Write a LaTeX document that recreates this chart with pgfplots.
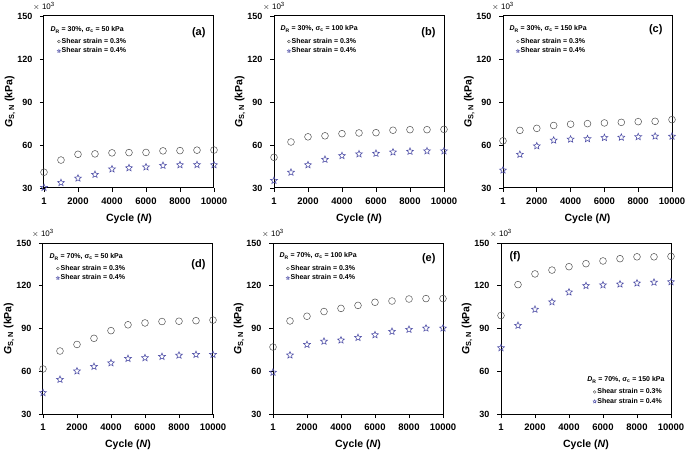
\documentclass[border=0pt]{standalone}
\usepackage{fontspec}
\setmainfont{Liberation Sans}
\usepackage{pgfplots}
\pgfplotsset{compat=1.18}
\definecolor{circgray}{RGB}{80,80,80}
\definecolor{starblue}{RGB}{75,75,165}
\pgfdeclareplotmark{ostar}{%
  \pgfpathmoveto{\pgfpointpolar{90}{\pgfplotmarksize}}%
  \pgfpathlineto{\pgfpointpolar{126}{0.45\pgfplotmarksize}}%
  \pgfpathlineto{\pgfpointpolar{162}{\pgfplotmarksize}}%
  \pgfpathlineto{\pgfpointpolar{198}{0.45\pgfplotmarksize}}%
  \pgfpathlineto{\pgfpointpolar{234}{\pgfplotmarksize}}%
  \pgfpathlineto{\pgfpointpolar{270}{0.45\pgfplotmarksize}}%
  \pgfpathlineto{\pgfpointpolar{306}{\pgfplotmarksize}}%
  \pgfpathlineto{\pgfpointpolar{342}{0.45\pgfplotmarksize}}%
  \pgfpathlineto{\pgfpointpolar{18}{\pgfplotmarksize}}%
  \pgfpathlineto{\pgfpointpolar{54}{0.45\pgfplotmarksize}}%
  \pgfpathclose
  \pgfusepathqstroke
}
\newcommand{\tfont}{\fontsize{9.5}{10}\selectfont\bfseries}
\newcommand{\lfont}{\fontsize{7}{8}\selectfont\bfseries}
\pgfplotsset{
  panel/.style={
    scale only axis, width=170pt, height=172pt,
    xmin=1, xmax=10000, ymin=30, ymax=150,
    scaled x ticks=false, scaled y ticks=false,
    xtick={1,2000,4000,6000,8000,10000},
    xticklabels={1,2000,4000,6000,8000,10000},
    ytick={30,60,90,120,150},
    yticklabels={30,60,90,120,150},
    tick align=outside, tick pos=left, major tick length=4pt,
    axis line style={line width=1pt, black},
    tick style={line width=0.8pt, black},
    xticklabel style={font=\tfont, yshift=-2pt},
    yticklabel style={font=\fontsize{9}{10}\selectfont\bfseries, xshift=-4pt},
    xlabel={\textbf{Cycle (\textit{N})}},
    ylabel={\textbf{\textit{G}}\textsubscript{\bfseries S, N} \textbf{(kPa)}},
    xlabel style={font=\fontsize{10.5}{11}\selectfont\bfseries, at={(axis description cs:0.5,-0.18)}, anchor=center},
    ylabel style={font=\fontsize{10.5}{11}\selectfont\bfseries, at={(axis description cs:-0.20,0.5)}, anchor=center},
    clip=false,
    legend style={draw=none, fill=none, font=\lfont, inner sep=0pt, row sep=1pt,
      nodes={inner sep=1pt}},
    legend cell align=left,
    legend image code/.code={\draw[#1] plot coordinates {(0pt,0pt)};},
  },
  circ/.style={only marks, mark=o, mark size=3.4pt, circgray, mark options={line width=0.5pt}},
  stars/.style={only marks, mark=ostar, mark size=3.6pt, starblue, mark options={line width=0.55pt}},
  lcirc/.style={only marks, mark=o, mark size=1.4pt, circgray, mark options={line width=0.4pt}},
  lstar/.style={only marks, mark=ostar, mark size=1.8pt, starblue, mark options={line width=0.4pt}},
  tl/.style={legend style={at={(rel axis cs:0,1)}, anchor=north west, xshift=13pt, yshift=-21pt}},
}
\newcommand{\xten}{\node[anchor=south, font=\fontsize{8}{9}\selectfont, yshift=2pt] at (rel axis cs:0,1) {$\times$ 10\textsuperscript{3}};}
\begin{document}
\begin{tikzpicture}
\useasboundingbox (0,0) rectangle (685pt,453pt);
% (a)
\begin{axis}[panel, tl, at={(44pt,265pt)}, anchor=south west]
\addplot[circ, forget plot] coordinates {(1,41) (1000,49.5) (2000,53.5) (3000,53.8) (4000,54.5) (5000,54.7) (6000,54.8) (7000,55.9) (8000,56.1) (9000,56.4) (10000,56.5)};
\addplot[stars, forget plot] coordinates {(1,30.3) (1000,33.7) (2000,36.8) (3000,39.4) (4000,43.2) (5000,44) (6000,44.6) (7000,45.7) (8000,46.1) (9000,46.2) (10000,46.1)};
\addlegendimage{lcirc}\addlegendentry{Shear strain = 0.3\%}
\addlegendimage{lstar}\addlegendentry{Shear strain = 0.4\%}
\xten
\node[anchor=west, font=\lfont, xshift=3pt, yshift=-14pt] at (rel axis cs:0,1) {\textit{D}\textsubscript{R} = 30\%, σ\textsubscript{c} = 50 kPa};
\node[anchor=east, font=\fontsize{11}{12}\selectfont\bfseries, xshift=-5pt, yshift=-17pt] at (rel axis cs:1,1) {(a)};
\end{axis}
% (b)
\begin{axis}[panel, tl, at={(274pt,265pt)}, anchor=south west]
\addplot[circ, forget plot] coordinates {(1,51.4) (1000,62.1) (2000,65.7) (3000,66.4) (4000,67.9) (5000,68.4) (6000,68.6) (7000,70.3) (8000,70.7) (9000,70.7) (10000,70.9)};
\addplot[stars, forget plot] coordinates {(1,35.2) (1000,40.9) (2000,46.1) (3000,49.9) (4000,52.5) (5000,53.7) (6000,54.1) (7000,55) (8000,55.5) (9000,55.8) (10000,55.8)};
\addlegendimage{lcirc}\addlegendentry{Shear strain = 0.3\%}
\addlegendimage{lstar}\addlegendentry{Shear strain = 0.4\%}
\xten
\node[anchor=west, font=\lfont, xshift=3pt, yshift=-13pt] at (rel axis cs:0,1) {\textit{D}\textsubscript{R} = 30\%, σ\textsubscript{c} = 100 kPa};
\node[anchor=east, font=\fontsize{11}{12}\selectfont\bfseries, xshift=-5pt, yshift=-17pt] at (rel axis cs:1,1) {(b)};
\end{axis}
% (c)
\begin{axis}[panel, tl, at={(503pt,265pt)}, anchor=south west, width=169pt]
\addplot[circ, forget plot] coordinates {(1,62.9) (1000,70.2) (2000,71.6) (3000,73.6) (4000,74.5) (5000,74.9) (6000,75.4) (7000,75.8) (8000,76.3) (9000,76.5) (10000,77.7)};
\addplot[stars, forget plot] coordinates {(1,42.4) (1000,53.4) (2000,59.3) (3000,63.3) (4000,64) (5000,64.3) (6000,65.1) (7000,65.3) (8000,65.7) (9000,66.1) (10000,66)};
\addlegendimage{lcirc}\addlegendentry{Shear strain = 0.3\%}
\addlegendimage{lstar}\addlegendentry{Shear strain = 0.4\%}
\xten
\node[anchor=west, font=\lfont, xshift=3pt, yshift=-13pt] at (rel axis cs:0,1) {\textit{D}\textsubscript{R} = 30\%, σ\textsubscript{c} = 150 kPa};
\node[anchor=east, font=\fontsize{11}{12}\selectfont\bfseries, xshift=-6pt, yshift=-14pt] at (rel axis cs:1,1) {(c)};
\end{axis}
% (d)
\begin{axis}[panel, tl, at={(43pt,39pt)}, anchor=south west, height=171pt]
\addplot[circ, forget plot] coordinates {(1,61.6) (1000,74.2) (2000,78.8) (3000,83.1) (4000,88.5) (5000,92.6) (6000,93.9) (7000,94.9) (8000,95.1) (9000,95.5) (10000,95.9)};
\addplot[stars, forget plot] coordinates {(1,44.9) (1000,54.2) (2000,60.1) (3000,63.3) (4000,65.8) (5000,68.9) (6000,69.4) (7000,70.3) (8000,71.2) (9000,71.7) (10000,71.7)};
\addlegendimage{lcirc}\addlegendentry{Shear strain = 0.3\%}
\addlegendimage{lstar}\addlegendentry{Shear strain = 0.4\%}
\xten
\node[anchor=west, font=\lfont, xshift=3pt, yshift=-14pt] at (rel axis cs:0,1) {\textit{D}\textsubscript{R} = 70\%, σ\textsubscript{c} = 50 kPa};
\node[anchor=east, font=\fontsize{11}{12}\selectfont\bfseries, xshift=-4pt, yshift=-22pt] at (rel axis cs:1,1) {(d)};
\end{axis}
% (e)
\begin{axis}[panel, tl, at={(273pt,39pt)}, anchor=south west, height=171pt]
\addplot[circ, forget plot] coordinates {(1,77) (1000,95.3) (2000,98.6) (3000,101.9) (4000,104.1) (5000,106.2) (6000,108.4) (7000,109.3) (8000,110.7) (9000,111) (10000,111)};
\addplot[stars, forget plot] coordinates {(1,59.2) (1000,71.3) (2000,78.7) (3000,81) (4000,81.8) (5000,83.6) (6000,85.5) (7000,87.9) (8000,89.3) (9000,90.2) (10000,90.2)};
\addlegendimage{lcirc}\addlegendentry{Shear strain = 0.3\%}
\addlegendimage{lstar}\addlegendentry{Shear strain = 0.4\%}
\xten
\node[anchor=west, font=\lfont, xshift=3pt, yshift=-13pt] at (rel axis cs:0,1) {\textit{D}\textsubscript{R} = 70\%, σ\textsubscript{c} = 100 kPa};
\node[anchor=east, font=\fontsize{11}{12}\selectfont\bfseries, xshift=-4pt, yshift=-16pt] at (rel axis cs:1,1) {(e)};
\end{axis}
% (f)
\begin{axis}[panel, at={(501pt,39pt)}, anchor=south west, height=171pt,
  legend style={at={(rel axis cs:1,0)}, anchor=south east, xshift=-8pt, yshift=8pt}]
\addplot[circ, forget plot] coordinates {(1,99.1) (1000,120.8) (2000,128.3) (3000,131) (4000,133.4) (5000,135.5) (6000,137.4) (7000,139) (8000,140.3) (9000,140.3) (10000,140.6)};
\addplot[stars, forget plot] coordinates {(1,76.4) (1000,92.1) (2000,103.4) (3000,108.6) (4000,115.5) (5000,120) (6000,120.5) (7000,121.1) (8000,121.8) (9000,122.4) (10000,122.7)};
\addlegendimage{lcirc}\addlegendentry{Shear strain = 0.3\%}
\addlegendimage{lstar}\addlegendentry{Shear strain = 0.4\%}
\xten
\node[anchor=east, font=\lfont, xshift=-3pt, yshift=34pt] at (rel axis cs:1,0) {\textit{D}\textsubscript{R} = 70\%, σ\textsubscript{c} = 150 kPa};
\node[anchor=west, font=\fontsize{11}{12}\selectfont\bfseries, xshift=5pt, yshift=-14pt] at (rel axis cs:0,1) {(f)};
\end{axis}
\end{tikzpicture}
\end{document}
